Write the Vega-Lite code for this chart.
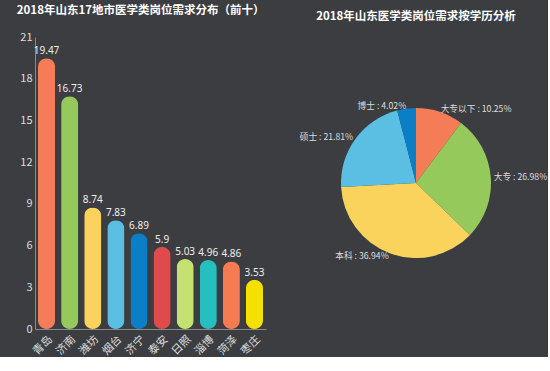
{
  "$schema": "https://vega.github.io/schema/vega-lite/v6.json",
  "background": "#3c3d41",
  "padding": {"left": 16, "top": 4, "right": 0, "bottom": 0},
  "spacing": 33,
  "config": {
    "font": "Noto Sans CJK SC",
    "view": {"stroke": null},
    "title": {"color": "#ffffff", "fontSize": 11.5, "fontWeight": "bold", "font": "Noto Sans CJK SC"}
  },
  "hconcat": [
    {
      "width": 231,
      "height": 292,
      "title": {"text": "2018年山东17地市医学类岗位需求分布（前十）", "anchor": "start", "frame": "bounds", "offset": 15, "dx": -3},
      "data": {
        "values": [
          {"city": "青岛", "value": 19.47},
          {"city": "济南", "value": 16.73},
          {"city": "潍坊", "value": 8.74},
          {"city": "烟台", "value": 7.83},
          {"city": "济宁", "value": 6.89},
          {"city": "泰安", "value": 5.9},
          {"city": "日照", "value": 5.03},
          {"city": "淄博", "value": 4.96},
          {"city": "菏泽", "value": 4.86},
          {"city": "枣庄", "value": 3.53}
        ]
      },
      "encoding": {
        "x": {
          "field": "city", "type": "nominal", "sort": null,
          "scale": {"paddingInner": 0.26, "paddingOuter": 0.13},
          "axis": {"title": null, "labelAngle": -45, "ticks": false, "domainColor": "#8a8a8a", "labelColor": "#dddddd", "labelFontSize": 11, "labelPadding": 4}
        },
        "y": {
          "field": "value", "type": "quantitative",
          "scale": {"domain": [0, 21]},
          "axis": {"title": null, "grid": false, "values": [0, 3, 6, 9, 12, 15, 18, 21], "ticks": false, "domainColor": "#8a8a8a", "labelColor": "#dddddd", "labelFontSize": 11, "labelPadding": 3}
        }
      },
      "layer": [
        {
          "mark": {"type": "bar", "cornerRadius": 8.5},
          "encoding": {
            "color": {
              "field": "city", "type": "nominal", "sort": null, "legend": null,
              "scale": {
                "domain": ["青岛", "济南", "潍坊", "烟台", "济宁", "泰安", "日照", "淄博", "菏泽", "枣庄"],
                "range": ["#f47c57", "#96c95b", "#f9d35c", "#5bbfe3", "#0b7fc6", "#e04a4a", "#c4e270", "#25bfbf", "#f47b52", "#f4e100"]
              }
            }
          }
        },
        {
          "mark": {"type": "text", "dy": -7, "fontSize": 10, "color": "#eeeeee", "font": "Noto Sans"},
          "encoding": {"text": {"field": "value", "type": "quantitative"}}
        }
      ]
    },
    {
      "width": 230,
      "height": 292,
      "title": {"text": "2018年山东医学类岗位需求按学历分析", "anchor": "middle", "offset": 15},
      "data": {
        "values": [
          {"edu": "大专以下", "pct": 10.25, "rank": 1},
          {"edu": "大专", "pct": 26.98, "rank": 2},
          {"edu": "本科", "pct": 36.94, "rank": 3},
          {"edu": "硕士", "pct": 21.81, "rank": 4},
          {"edu": "博士", "pct": 4.02, "rank": 5}
        ]
      },
      "transform": [{"calculate": "datum.edu + ' : ' + datum.pct + '%'", "as": "label"}],
      "encoding": {
        "theta": {"field": "pct", "type": "quantitative", "stack": true},
        "order": {"field": "rank", "type": "quantitative"}
      },
      "layer": [
        {
          "mark": {"type": "arc", "outerRadius": 75},
          "encoding": {
            "color": {
              "field": "edu", "type": "nominal", "legend": null,
              "scale": {
                "domain": ["大专以下", "大专", "本科", "硕士", "博士"],
                "range": ["#f47c57", "#96c95b", "#f9d35c", "#5bbfe3", "#0b7fc6"]
              }
            }
          }
        },
        {
          "mark": {"type": "text", "radius": 78, "align": "left", "baseline": "middle", "fontSize": 8.7, "color": "#dddddd"},
          "encoding": {
            "detail": {"field": "edu", "type": "nominal"},
            "text": {"condition": {"test": "datum.rank <= 2", "field": "label", "type": "nominal"}, "value": ""}
          }
        },
        {
          "mark": {"type": "text", "radius": 78, "align": "right", "baseline": "middle", "fontSize": 8.7, "color": "#dddddd"},
          "encoding": {
            "detail": {"field": "edu", "type": "nominal"},
            "text": {"condition": {"test": "datum.rank > 2", "field": "label", "type": "nominal"}, "value": ""}
          }
        }
      ]
    }
  ]
}
